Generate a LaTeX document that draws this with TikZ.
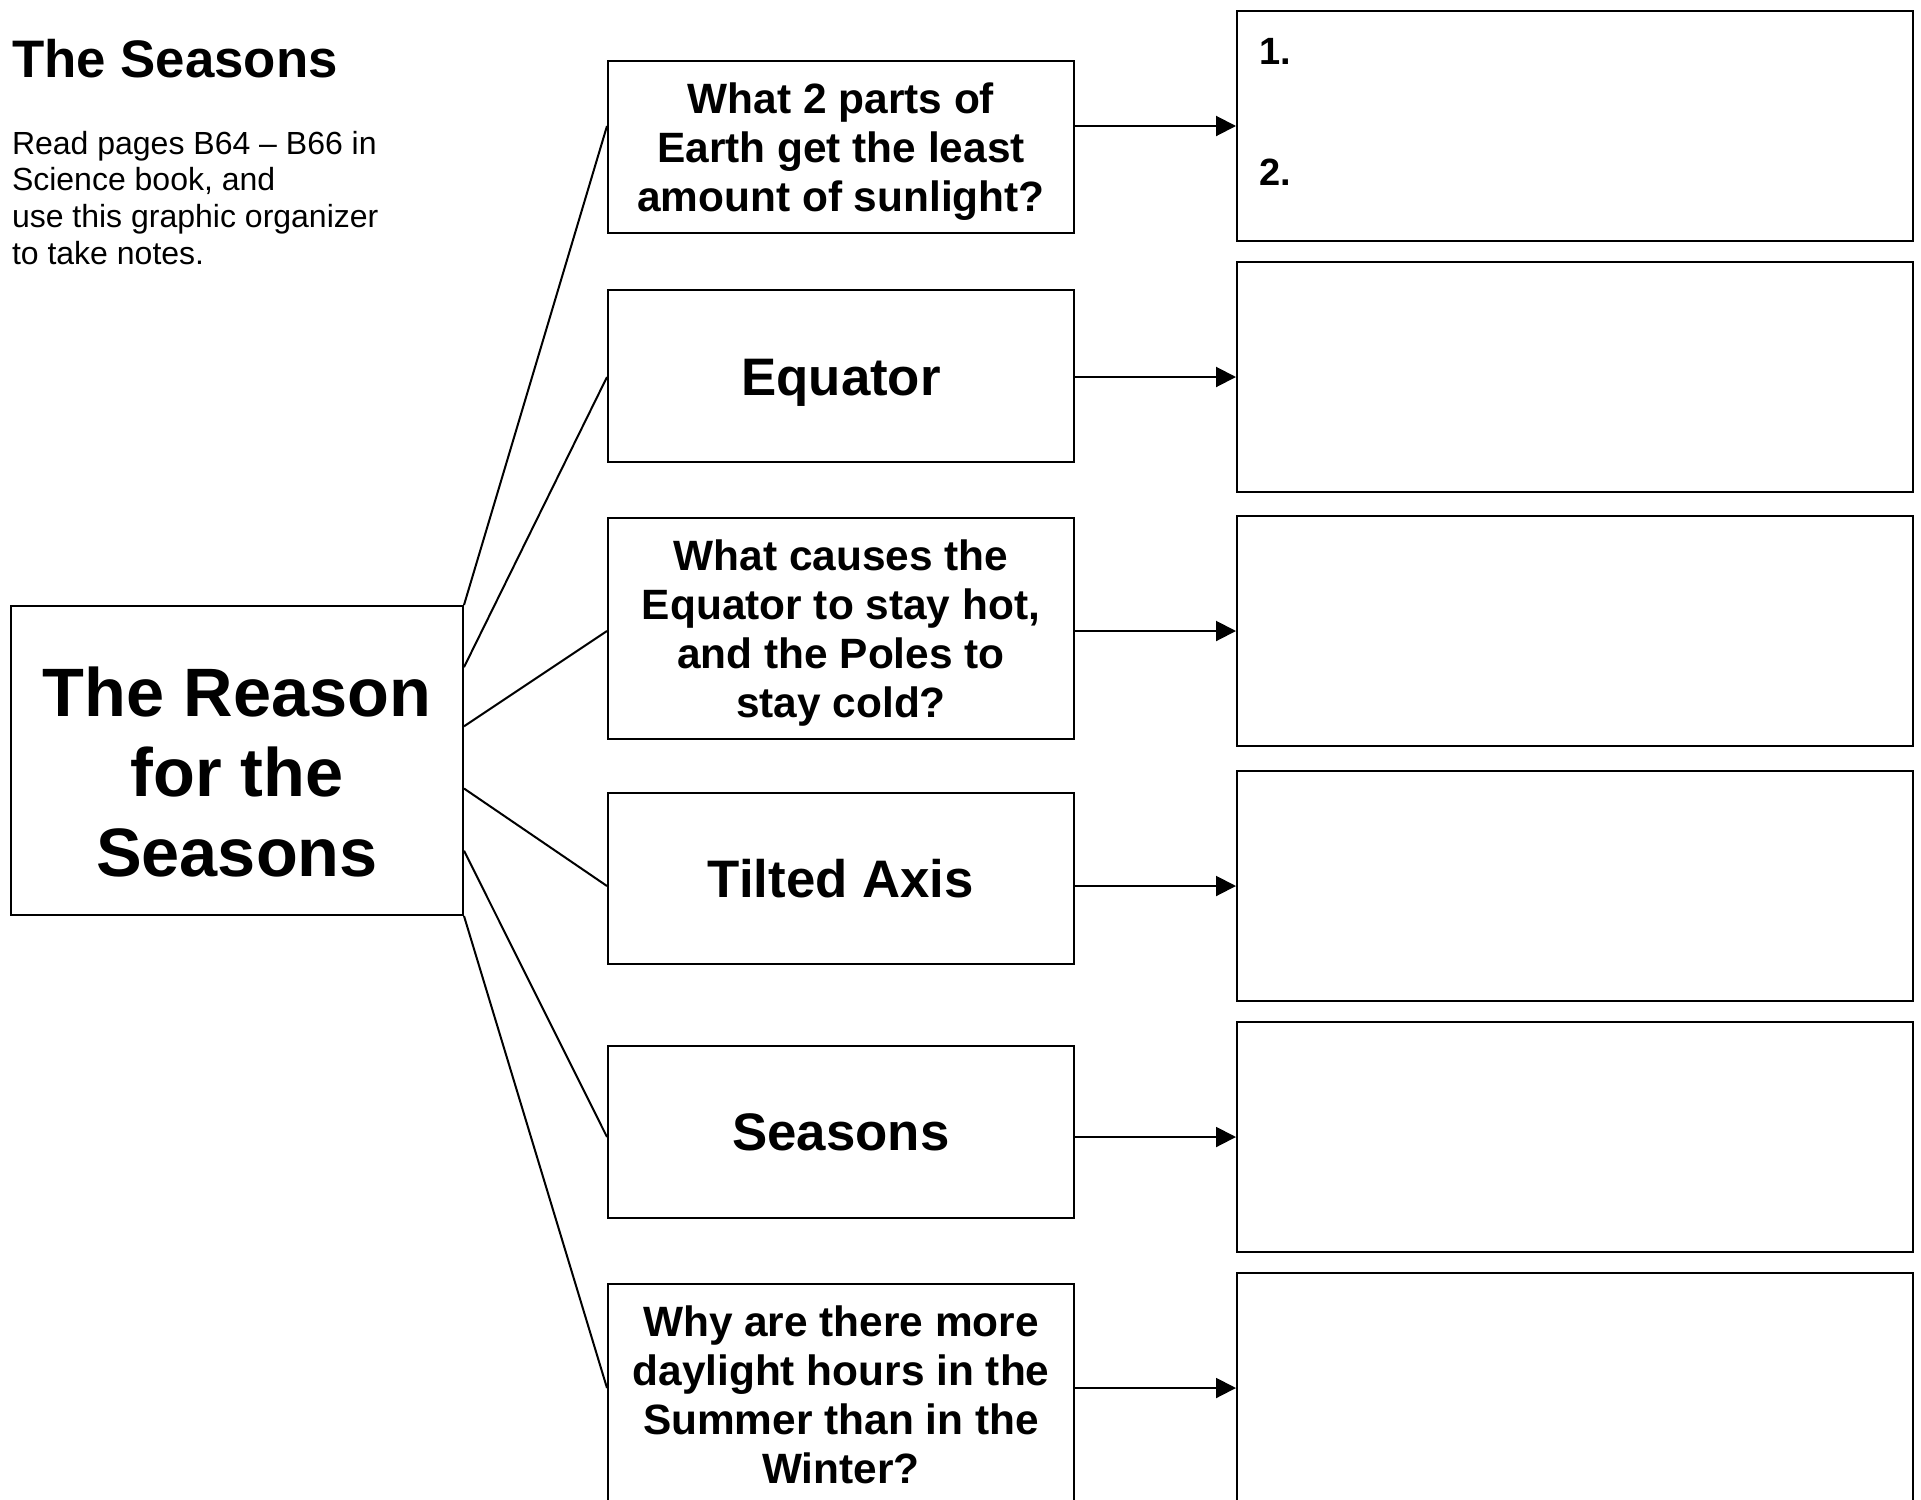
\documentclass[tikz,border=0pt]{standalone}
\usepackage{fontspec}
\setmainfont{Liberation Sans}
\usetikzlibrary{calc,arrows.meta}
\begin{document}
\begin{tikzpicture}[x=.5pt,y=-.5pt,line width=1pt,
 box/.style={draw,inner sep=0pt,align=center},
 ques/.style={box,minimum width=233pt},
 note/.style={box,minimum width=338pt,minimum height=115pt},
 arr/.style={-{Triangle[length=10pt,width=10pt]}}]
 \useasboundingbox (0,0) rectangle (1921,1499);
 \node[anchor=base west,inner sep=0,font=\bfseries\fontsize{26.4}{32}\selectfont] (title) at (11,77) {The Seasons};
 \node[anchor=north west,inner sep=0,align=left,font=\fontsize{16}{18.4}\selectfont] (intro) at (11,130)
  {Read pages B64 -- B66 in\\Science book, and\\use this graphic organizer\\to take notes.};
 \node[box,minimum width=226pt,minimum height=154.5pt,font=\bfseries\fontsize{34.25}{40}\selectfont] (hub) at (237,760.5)
  {\rule{0pt}{36pt}The Reason\\for the\\Seasons};
 \foreach \i/\y/\h/\fs/\t in {1/147/86/21.2/{\rule{0pt}{20pt}What 2 parts of\\Earth get the least\\amount of sunlight?},
   2/376/86/26.4/{\rule{0pt}{25pt}Equator},
   3/628.5/110.5/21.2/{\rule{0pt}{20pt}What causes the\\Equator to stay hot,\\and the Poles to\\stay cold?},
   4/878.5/85.5/26.4/Tilted Axis,5/1132/86/26.4/Seasons,
   6/1394.5/110.5/21.2/{Why are there more\\daylight hours in the\\Summer than in the\\Winter?}}
  {\node[ques,minimum height=\h pt,font=\bfseries\fontsize{\fs}{24.5}\selectfont] (q\i) at (841,\y) {\t};}
 \foreach \i/\y in {1/126,2/377,3/631,4/886,5/1137,6/1388}{\node[note] (a\i) at (1575,\y) {};}
 \node[anchor=base west,inner sep=0,font=\bfseries\fontsize{19}{22}\selectfont] (n1) at (1258,64) {1.};
 \node[anchor=base west,inner sep=0,font=\bfseries\fontsize{19}{22}\selectfont] (n2) at (1258,185) {2.};
 % spokes from the hub, arrows to the note boxes
 \foreach \i/\f in {1/0,2/.2,3/.39,4/.59,5/.79,6/1}{\draw ($(hub.north east)!\f!(hub.south east)$) -- (q\i.west |- a\i.west);}
 \foreach \i in {1,...,6}{\draw[arr] (q\i.east |- a\i.west) -- (a\i.west);}
\end{tikzpicture}
\end{document}
